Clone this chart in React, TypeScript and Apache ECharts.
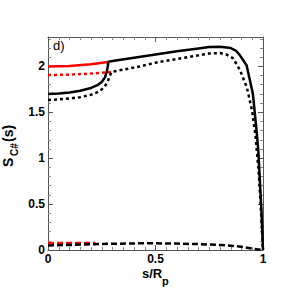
import React, { useEffect, useRef } from "react";
import * as echarts from "echarts";

// s/Rp positions and S values
const xBlackSolid = [0, 0.05, 0.1, 0.15, 0.2, 0.23, 0.25, 0.265, 0.273, 0.278, 0.281, 0.3, 0.4, 0.5, 0.6, 0.7, 0.75, 0.8, 0.85, 0.875, 0.893, 0.924, 0.953, 0.97, 0.978, 0.985, 0.993, 1.0];
const yBlackSolid = [1.7, 1.705, 1.715, 1.735, 1.765, 1.795, 1.83, 1.88, 1.94, 2.0, 2.05, 2.058, 2.095, 2.13, 2.165, 2.195, 2.21, 2.215, 2.2, 2.17, 2.12, 2.01, 1.7, 1.3, 1.09, 0.78, 0.42, 0.0];

const xBlackDotted = [0, 0.05, 0.1, 0.15, 0.2, 0.24, 0.26, 0.275, 0.285, 0.295, 0.35, 0.43, 0.5, 0.6, 0.7, 0.75, 0.8, 0.83, 0.86, 0.893, 0.925, 0.949, 0.965, 0.98, 0.99, 1.0];
const yBlackDotted = [1.635, 1.64, 1.65, 1.665, 1.69, 1.73, 1.77, 1.82, 1.88, 1.94, 1.965, 2.0, 2.04, 2.08, 2.12, 2.14, 2.145, 2.13, 2.09, 1.96, 1.77, 1.52, 1.25, 0.85, 0.45, 0.0];

const xRedSolid = [0, 0.1, 0.2, 0.28];
const yRedSolid = [2.0, 2.005, 2.022, 2.047];

const xRedDotted = [0, 0.1, 0.2, 0.295];
const yRedDotted = [1.905, 1.91, 1.922, 1.94];

const xRedDashed = [0, 0.1, 0.22];
const yRedDashed = [0.076, 0.076, 0.075];

const xBlackDashed = [0, 0.1, 0.2, 0.3, 0.4, 0.5, 0.6, 0.7, 0.8, 0.9, 0.95, 1.0];
const yBlackDashed = [0.05, 0.055, 0.062, 0.068, 0.072, 0.073, 0.07, 0.064, 0.055, 0.036, 0.015, 0.0];

const zip = (xs: number[], ys: number[]) => xs.map((x, i) => [x, ys[i]]);

const FONT = "'Liberation Sans', Arial, Helvetica, sans-serif";
const AXIS_COLOR = "#555";

export default function App() {
  const ref = useRef<HTMLDivElement>(null);

  useEffect(() => {
    if (!ref.current) return;
    const chart = echarts.init(ref.current, undefined, { renderer: "svg" });

    const lineSeries = (name: string, data: number[][], color: string, type: any, width: number) => ({
      name,
      type: "line",
      data,
      showSymbol: false,
      symbol: "none",
      smooth: false,
      xAxisIndex: 0,
      yAxisIndex: 0,
      lineStyle: { color, width, type, cap: "butt" },
      z: 3,
    });

    const baseAxis = {
      type: "value",
      min: 0,
      interval: 0.5,
      splitLine: { show: false },
      axisLine: { show: true, onZero: false, lineStyle: { color: AXIS_COLOR, width: 1 } },
      axisTick: { show: true, inside: true, length: 5, lineStyle: { color: AXIS_COLOR } },
      minorTick: { show: true, length: 3, lineStyle: { color: "#888" } },
    };

    chart.setOption({
      animation: false,
      backgroundColor: "#fff",
      grid: { left: 48, top: 37, width: 215, height: 213, show: false },
      xAxis: [
        {
          ...baseAxis,
          max: 1,
          position: "bottom",
          minorTick: { ...baseAxis.minorTick, splitNumber: 10 },
          axisLabel: {
            margin: 3,
            color: "#000",
            fontWeight: "bold",
            fontSize: 12,
            lineHeight: 12,
            fontFamily: FONT,
            formatter: (v: number) => String(v),
          },
        },
        {
          ...baseAxis,
          max: 1,
          position: "top",
          minorTick: { ...baseAxis.minorTick, splitNumber: 10 },
          axisLabel: { show: false },
        },
      ],
      yAxis: [
        {
          ...baseAxis,
          max: 2.32,
          position: "left",
          minorTick: { ...baseAxis.minorTick, splitNumber: 5 },
          axisLabel: {
            margin: 3,
            color: "#000",
            fontWeight: "bold",
            fontSize: 12,
            fontFamily: FONT,
            showMaxLabel: false,
            formatter: (v: number) => String(v),
          },
        },
        {
          ...baseAxis,
          max: 2.32,
          position: "right",
          minorTick: { ...baseAxis.minorTick, splitNumber: 5 },
          axisLabel: { show: false },
        },
      ],
      series: [
        lineSeries("red dashed", zip(xRedDashed, yRedDashed), "#ff0000", [6, 3], 2.5),
        lineSeries("black dashed", zip(xBlackDashed, yBlackDashed), "#000", [6, 3], 2.5),
        lineSeries("red dotted", zip(xRedDotted, yRedDotted), "#ff0000", [3, 3], 2.5),
        lineSeries("red solid", zip(xRedSolid, yRedSolid), "#ff0000", "solid", 2.5),
        lineSeries("black dotted", zip(xBlackDotted, yBlackDotted), "#000", [3, 3], 2.5),
        lineSeries("black solid", zip(xBlackSolid, yBlackSolid), "#000", "solid", 2.5),
      ],
      graphic: [
        {
          type: "text",
          x: 53,
          y: 45,
          style: { text: "d)", fontSize: 13, fontFamily: FONT, fill: "#000", textAlign: "left", textVerticalAlign: "middle" },
        },
        // y-axis name S_C#(s), rotated
        {
          type: "text",
          x: 8,
          y: 167,
          rotation: Math.PI / 2,
          style: { text: "S", fontSize: 14, fontWeight: "bold", fontFamily: FONT, fill: "#000", textAlign: "left", textVerticalAlign: "middle" },
        },
        {
          type: "text",
          x: 14,
          y: 156,
          rotation: Math.PI / 2,
          style: { text: "C#", fontSize: 10, fontWeight: "bold", fontFamily: FONT, fill: "#000", textAlign: "left", textVerticalAlign: "middle" },
        },
        {
          type: "text",
          x: 8,
          y: 142,
          rotation: Math.PI / 2,
          style: { text: "(s)", fontSize: 14, fontWeight: "bold", fontFamily: FONT, fill: "#000", textAlign: "left", textVerticalAlign: "middle" },
        },
        // x-axis name s/R_p
        {
          type: "text",
          x: 142,
          y: 273.5,
          style: { text: "s/R", fontSize: 13, lineHeight: 13, fontWeight: "bold", fontFamily: FONT, fill: "#000", textAlign: "left", textVerticalAlign: "middle" },
        },
        {
          type: "text",
          x: 162,
          y: 281,
          style: { text: "p", fontSize: 11, lineHeight: 11, fontWeight: "bold", fontFamily: FONT, fill: "#000", textAlign: "left", textVerticalAlign: "middle" },
        },
      ],
    });

    return () => chart.dispose();
  }, []);

  return <div ref={ref} style={{ position: "fixed", left: 0, top: 0, width: 291, height: 300 }} />;
}
